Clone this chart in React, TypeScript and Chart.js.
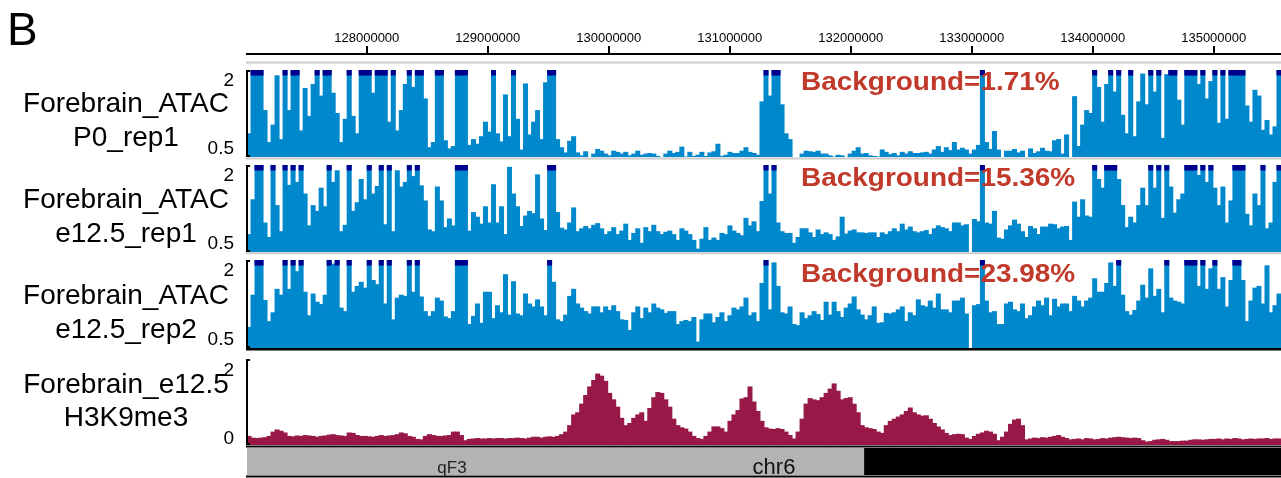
import React, { useEffect, useRef } from 'react';
import { Chart, registerables } from 'chart.js';

Chart.register(...registerables);

const FONT = '"Liberation Sans", Arial, Helvetica, sans-serif';

// genomic window (chr6)
const X_MIN = 127010000;
const X_MAX = 135556000;
const N_BINS = 258;
const X_TICKS = [128000000, 129000000, 130000000, 131000000, 132000000, 133000000, 134000000, 135000000];
const BAND_SPLIT = 132110000;

const PANEL_LABEL = 'B';
const TRACK_NAMES = [
  ['Forebrain_ATAC', 'P0_rep1'],
  ['Forebrain_ATAC', 'e12.5_rep1'],
  ['Forebrain_ATAC', 'e12.5_rep2'],
  ['Forebrain_e12.5', 'H3K9me3'],
];
const BACKGROUND_LABELS = ['Background=1.71%', 'Background=15.36%', 'Background=23.98%'];
const ATAC_RANGE = [0.5, 2];
const ATAC_TICK_LABELS = ['2', '0.5'];
const H3K9_RANGE = [0, 2];
const H3K9_TICK_LABELS = ['2', '0'];
const BAND_NAMES = ['qF3', 'chr6'];

// ATAC signal, forebrain P0 rep1 (values above 2 are clipped in the plot)
const atacP0Rep1 = [
  0.9, 2.5, 2.5, 2.5, 1.3, 0.75, 1.05, 1.9, 0.8, 2.5,
  1.3, 2.5, 2.5, 0.95, 1.68, 1.2, 1.75, 2.5, 1.55, 2.5,
  2.5, 1.6, 1.25, 0.75, 1.15, 2.5, 1.2, 0.9, 2.5, 2.5,
  2.5, 1.6, 2.5, 2.5, 2.5, 1.1, 2.5, 0.95, 1.3, 1.75,
  2.5, 1.7, 2.5,
  2.5, 1.5, 0.66, 0.75, 2.5, 2.5, 0.78, 0.64, 0.68, 2.5,
  2.5, 2.5, 0.7, 0.8, 0.72, 0.85, 1.1, 0.93, 2.5, 0.9,
  0.76, 1.57, 0.85, 2.5, 1.15, 0.62, 1.76, 0.88, 1.1, 1.3,
  0.8, 1.78, 2.5, 2.5, 0.8, 0.66, 0.57, 0.77, 0.85, 0.57,
  0.52, 0.59, 0.45,
  0.55, 0.63, 0.6, 0.55, 0.52, 0.6, 0.58, 0.55, 0.58, 0.52,
  0.55, 0.6, 0.53, 0.55, 0.56, 0.55, 0.51, 0.45, 0.55, 0.6,
  0.56, 0.58, 0.67, 0.5, 0.58, 0.51, 0.53, 0.58, 0.51, 0.57,
  0.59, 0.72, 0.51, 0.53, 0.58, 0.56, 0.56, 0.6, 0.66, 0.58,
  0.56, 0.53, 1.45, 2.5,
  1.55, 2.5, 2.5, 1.4, 0.9, 0.8, 0.45, 0.45, 0.55, 0.6,
  0.59, 0.58, 0.6, 0.55, 0.55, 0.52, 0.5, 0.53, 0.52, 0.45,
  0.55, 0.6, 0.66, 0.55, 0.56, 0.52, 0.51, 0.5, 0.62, 0.58,
  0.54, 0.56, 0.52, 0.58, 0.55, 0.59, 0.56, 0.56, 0.57, 0.58,
  0.55, 0.62, 0.68,
  0.58, 0.66, 0.61, 0.75, 0.62, 0.65, 0.62, 0.55, 0.62, 0.7,
  2.5, 0.75, 0.63, 0.94, 0.62, 0.45, 0.6, 0.6, 0.63, 0.57,
  0.6, 0.48, 0.64, 0.56, 0.59, 0.65, 0.6, 0.59, 0.78, 0.8,
  0.55, 0.88, 0.45, 1.54, 0.68, 1.05, 1.3, 1.25, 2.5, 1.7,
  1.1, 1.75, 2.5,
  1.62, 2.5, 1.22, 0.9, 2.5, 0.85, 1.45, 1.93, 1.4, 2.5,
  1.62, 2.5, 0.82, 1.92, 2.5, 2.5, 1.48, 1.05, 2.5, 2.5,
  2.5, 1.75, 2.5, 1.5, 1.8, 2.5, 1.08, 2.5, 1.15, 2.5,
  2.5, 2.5, 2.5, 1.38, 1.1, 1.65, 1.55, 0.96, 1.13, 0.88,
  1.02, 2.5,
];

// ATAC signal, forebrain e12.5 rep1
const atacE125Rep1 = [
  0.8, 1.4, 2.5, 2.5, 1.0, 0.75, 2.5, 1.3, 0.85, 2.5,
  1.65, 2.5, 1.7, 2.5, 1.5, 0.95, 1.3, 1.2, 1.6, 1.28,
  2.5, 1.7, 1.9, 0.85, 0.96, 2.5, 1.2, 1.35, 1.75, 1.4,
  2.5, 1.5, 1.63, 2.5, 0.97, 2.5, 0.85, 1.9, 1.62, 1.7,
  2.5, 1.8, 2.5,
  1.64, 1.38, 0.88, 0.85, 1.62, 1.38, 0.92, 1.07, 0.95, 2.5,
  2.5, 2.5, 0.86, 1.18, 1.1, 0.98, 1.28, 1.0, 1.66, 1.0,
  1.28, 0.8, 1.96, 1.5, 1.28, 0.94, 1.12, 1.2, 1.16, 1.83,
  1.07, 0.87, 2.5, 2.5, 1.18, 0.91, 0.88, 1.0, 1.26, 0.85,
  0.9, 0.94, 0.9,
  0.96, 0.99, 0.9, 0.8, 0.85, 0.92, 0.8, 0.86, 0.98, 0.7,
  0.82, 0.9, 0.65, 0.92, 0.85, 0.96, 0.85, 0.8, 0.84, 0.86,
  0.8, 0.7, 0.9, 0.86, 0.8, 0.7, 0.55, 0.72, 0.92, 0.7,
  0.74, 0.7, 0.82, 0.8, 0.95, 0.86, 0.82, 0.78, 1.08, 0.95,
  1.02, 0.85, 1.37, 2.5,
  1.5, 2.5, 1.0, 0.85, 0.82, 0.82, 0.65, 0.75, 0.9, 0.9,
  0.83, 0.75, 0.88, 0.8, 0.83, 0.8, 0.7, 0.76, 1.1, 0.81,
  0.86, 0.88, 0.83, 0.83, 0.82, 0.83, 0.83, 0.75, 0.83, 0.8,
  0.85, 0.9, 0.85, 0.98, 0.88, 0.93, 0.85, 0.83, 0.85, 0.87,
  0.8, 0.9, 0.95,
  0.92, 0.9, 0.85, 1.0, 1.0, 0.95, 0.97, 0.45, 1.06, 1.02,
  2.5, 1.0, 0.98, 1.2, 0.74, 0.72, 0.88, 0.95, 1.05, 0.98,
  0.85, 0.75, 0.94, 0.9, 0.8, 0.93, 0.93, 0.98, 0.97, 0.9,
  0.93, 0.94, 0.7, 1.36, 1.1, 1.4, 1.12, 1.1, 2.5, 1.75,
  1.6, 2.5, 2.5,
  2.5, 1.75, 1.3, 0.92, 1.1, 1.0, 1.3, 1.6, 1.3, 2.5,
  1.6, 2.5, 1.08, 2.5, 1.62, 1.17, 1.4, 1.5, 2.5, 2.5,
  2.5, 1.82, 2.5, 1.7, 2.5, 1.6, 1.3, 1.62, 1.0, 1.38,
  2.5, 2.5, 2.5, 1.15, 0.95, 1.5, 1.3, 2.5, 0.9, 1.0,
  1.7, 2.5,
];

// ATAC signal, forebrain e12.5 rep2
const atacE125Rep2 = [
  0.85, 1.4, 2.5, 2.5, 1.31, 0.95, 1.1, 1.5, 1.4, 2.5,
  1.5, 2.5, 1.8, 2.5, 1.45, 1.05, 1.42, 1.28, 1.24, 1.4,
  2.5, 1.93, 2.5, 1.18, 1.12, 2.5, 1.45, 1.55, 1.62, 1.52,
  2.5, 1.65, 1.58, 2.5, 1.25, 2.5, 0.98, 1.35, 1.4, 1.38,
  2.5, 1.45, 2.5,
  1.37, 1.12, 1.04, 1.12, 1.35, 1.3, 1.03, 1.0, 1.12, 2.5,
  2.5, 2.5, 0.9, 1.04, 1.25, 0.92, 1.45, 1.45, 1.0, 1.22,
  1.1, 1.75, 1.06, 1.63, 1.08, 1.05, 1.42, 1.25, 1.2, 1.32,
  1.2, 1.05, 2.5, 1.62, 0.98, 0.95, 1.06, 1.38, 1.5, 1.25,
  1.18, 1.12, 1.08,
  1.2, 1.2, 1.1, 1.2, 1.14, 1.22, 1.12, 0.98, 0.97, 0.8,
  1.1, 1.2, 1.0, 1.18, 1.1, 1.25, 1.18, 1.15, 1.09, 1.12,
  1.12, 0.9, 0.95, 0.97, 0.95, 1.02, 0.6, 0.98, 1.08, 1.08,
  0.93, 1.02, 1.1, 0.95, 1.05, 1.18, 1.15, 1.2, 1.35, 1.05,
  1.1, 0.95, 1.6, 2.5,
  1.15, 1.95, 1.55, 1.1, 1.08, 1.2, 0.9, 0.88, 1.1, 1.0,
  1.05, 1.12, 1.07, 0.97, 1.28, 1.06, 1.28, 1.12, 1.02, 1.18,
  1.25, 1.37, 1.15, 1.06, 0.98, 1.05, 1.2, 0.92, 0.93, 1.09,
  1.08, 1.1, 1.15, 1.2, 0.95, 1.1, 1.05, 1.32, 1.22, 1.2,
  1.3, 1.18, 1.42,
  1.15, 1.15, 1.1, 1.3, 1.3, 1.35, 1.08, 0.45, 1.22, 1.24,
  2.5, 1.3, 1.1, 1.12, 0.9, 0.9, 1.25, 1.28, 1.15, 1.12,
  1.25, 1.0, 1.05, 1.2, 1.3, 1.22, 1.35, 1.05, 1.33, 1.2,
  1.25, 1.25, 1.12, 1.38, 1.3, 1.2, 1.3, 1.35, 1.68, 1.45,
  1.45, 1.6, 1.95,
  1.55, 2.5, 1.4, 1.12, 1.06, 1.14, 1.3, 1.57, 1.35, 1.85,
  1.38, 1.5, 1.1, 2.5, 1.35, 1.3, 1.28, 1.25, 2.5, 2.5,
  2.5, 1.55, 2.5, 1.5, 1.85, 2.5, 1.5, 1.7, 1.2, 1.65,
  2.5, 2.5, 1.65, 0.95, 1.3, 1.52, 1.55, 1.25, 1.9, 1.1,
  1.22, 1.42,
];

// H3K9me3 ChIP signal, forebrain e12.5
const h3k9me3E125 = [
  0.2, 0.16, 0.15, 0.16, 0.17, 0.2, 0.3, 0.35, 0.32, 0.28,
  0.2, 0.19, 0.21, 0.2, 0.22, 0.21, 0.2, 0.18, 0.2, 0.21, 0.23, 0.24, 0.22, 0.21, 0.2,
  0.28, 0.27, 0.22, 0.2,
  0.2, 0.19, 0.18, 0.2, 0.22, 0.2, 0.21, 0.22, 0.24,
  0.28, 0.26, 0.2, 0.18, 0.13, 0.12,
  0.2, 0.24, 0.22, 0.2,
  0.2, 0.21, 0.22, 0.3, 0.3,
  0.22, 0.1,
  0.13, 0.14, 0.15, 0.14, 0.14, 0.15, 0.14, 0.15, 0.15, 0.14, 0.15, 0.15, 0.16, 0.15, 0.14, 0.16,
  0.18, 0.18, 0.16, 0.18, 0.19, 0.18, 0.2,
  0.24, 0.3, 0.45, 0.7, 0.75, 0.95, 1.15, 1.35, 1.5, 1.65, 1.6, 1.48,
  1.2, 1.05, 0.88, 0.62, 0.45, 0.5, 0.62, 0.7, 0.75, 0.55,
  0.85, 1.1, 1.22, 1.2, 1.05, 0.88, 0.6, 0.45, 0.4, 0.37,
  0.3, 0.2, 0.15, 0.13, 0.2, 0.3, 0.42, 0.42, 0.38, 0.3,
  0.55, 0.7, 0.8, 1.07, 1.1, 1.35, 1.0, 0.78, 0.55, 0.4,
  0.37, 0.36, 0.38, 0.36, 0.3, 0.22, 0.14, 0.3, 0.6, 0.95,
  1.08, 1.05, 1.03, 1.1, 1.2, 1.3, 1.42, 1.25, 1.05, 1.08,
  1.1, 0.95, 0.75, 0.45, 0.4, 0.38, 0.36, 0.3, 0.27, 0.45,
  0.55, 0.6, 0.65, 0.7, 0.78, 0.86, 0.75, 0.7, 0.67, 0.68,
  0.6, 0.5, 0.42, 0.35, 0.27, 0.22, 0.24, 0.25, 0.24, 0.16,
  0.13, 0.2, 0.25, 0.28, 0.32, 0.3, 0.25, 0.1, 0.18, 0.3,
  0.48, 0.58, 0.6, 0.45, 0.12, 0.14, 0.16, 0.15, 0.17, 0.16,
  0.18, 0.2, 0.22, 0.18, 0.15, 0.12, 0.13, 0.14, 0.12, 0.15,
  0.14, 0.12, 0.13, 0.15, 0.14, 0.16, 0.17, 0.18, 0.17, 0.16,
  0.15, 0.16, 0.15, 0.1, 0.07, 0.08, 0.11, 0.12, 0.13, 0.11,
  0.08, 0.08, 0.08, 0.09, 0.09, 0.11, 0.12, 0.12, 0.11, 0.12,
  0.13, 0.13, 0.14, 0.12, 0.14, 0.13, 0.15, 0.14, 0.12, 0.13,
  0.14, 0.13, 0.14, 0.14, 0.15, 0.13, 0.14, 0.14,
];

const BLUE = '#0088cc';
const NAVY = '#00008f';
const CRIMSON = '#981848';
const RED_TEXT = '#c0392b';
const BAND_GRAY = '#b3b3b3';

const LEFT = 247;
const W = 1281;

const binCenter = (i: number) => X_MIN + (i + 0.5) * (X_MAX - X_MIN) / N_BINS;

type Line = { at: 'top' | 'bottom'; dy: number; color: string; w: number };
type Decor = {
  lines?: Line[];
  bracket?: boolean;
  topLabel?: string;
  bottomLabel?: string;
  topDy?: number;
  bottomDy?: number;
};

function makeDecor(cfg: Decor) {
  return {
    id: 'trackDecor',
    afterDatasetsDraw(chart: any) {
      const { ctx, chartArea: a } = chart;
      ctx.save();
      for (const l of cfg.lines || []) {
        const y = (l.at === 'top' ? a.top : a.bottom) + l.dy;
        ctx.strokeStyle = l.color;
        ctx.lineWidth = l.w;
        ctx.beginPath();
        ctx.moveTo(a.left - 1, y);
        ctx.lineTo(a.right, y);
        ctx.stroke();
      }
      if (cfg.bracket) {
        ctx.strokeStyle = '#000';
        ctx.lineWidth = 2;
        ctx.beginPath();
        ctx.moveTo(a.left + 3, a.top + 1);
        ctx.lineTo(a.left, a.top + 1);
        ctx.lineTo(a.left, a.bottom - 1);
        ctx.lineTo(a.left + 3, a.bottom - 1);
        ctx.stroke();
      }
      ctx.fillStyle = '#000';
      ctx.font = `19px ${FONT}`;
      ctx.textAlign = 'right';
      ctx.textBaseline = 'alphabetic';
      if (cfg.topLabel) ctx.fillText(cfg.topLabel, a.left - 13, a.top + (cfg.topDy ?? 15.6));
      if (cfg.bottomLabel) ctx.fillText(cfg.bottomLabel, a.left - 13, a.bottom + (cfg.bottomDy ?? -3));
      ctx.restore();
    },
  };
}

function baseOptions(padTop: number, padBottom: number, yMin: number, yMax: number) {
  return {
    responsive: false,
    animation: false,
    events: [],
    layout: { padding: { left: LEFT, right: 0, top: padTop, bottom: padBottom } },
    plugins: { legend: { display: false }, tooltip: { enabled: false } },
    scales: {
      x: { type: 'linear', min: X_MIN, max: X_MAX, display: false, offset: false, grid: { offset: false } },
      y: { type: 'linear', min: yMin, max: yMax, display: false },
    },
  };
}

const barStyle = { barPercentage: 1, categoryPercentage: 1, grouped: false, borderWidth: 0, inflateAmount: 0.5 };

function signalConfig(values: number[], range: number[], color: string, capped: boolean, padTop: number, padBottom: number, decor: Decor) {
  const [yMin, yMax] = range;
  const capH = 0.086 * (yMax - yMin) / 1.5;
  const main = values.map((v, i) => ({ x: binCenter(i), y: v < yMin ? null : Math.min(v, yMax) }));
  const datasets: any[] = [];
  if (capped) {
    const caps = values.map((v, i) => ({ x: binCenter(i), y: v >= yMax ? [yMax - capH, yMax] : null }));
    datasets.push({ data: caps, backgroundColor: NAVY, ...barStyle });
  }
  datasets.push({ data: main, backgroundColor: color, ...barStyle });
  return {
    type: 'bar',
    data: { datasets },
    options: baseOptions(padTop, padBottom, yMin, yMax),
    plugins: [makeDecor(decor)],
  };
}

function axisConfig() {
  return {
    type: 'scatter',
    data: { datasets: [] },
    options: {
      responsive: false,
      animation: false,
      events: [],
      layout: { padding: { left: LEFT, right: 0, top: 0, bottom: 0 } },
      plugins: { legend: { display: false }, tooltip: { enabled: false } },
      scales: {
        x: {
          type: 'linear',
          position: 'top',
          min: X_MIN,
          max: X_MAX,
          offset: false,
          afterBuildTicks: (s: any) => { s.ticks = X_TICKS.map((v) => ({ value: v })); },
          afterFit: (s: any) => { s.height = 54; },
          ticks: {
            autoSkip: false,
            maxRotation: 0,
            padding: 0,
            color: '#000',
            font: { family: FONT, size: 13 },
            callback: (v: number) => String(v),
          },
          grid: { drawOnChartArea: false, drawTicks: true, tickLength: 8, color: '#000', lineWidth: 2 },
          border: { display: true, color: '#000', width: 2 },
        },
        y: { display: false },
      },
    },
  };
}

function ideogramConfig() {
  return {
    type: 'bar',
    data: {
      labels: ['chr6'],
      datasets: [
        { data: [[X_MIN, BAND_SPLIT]], backgroundColor: BAND_GRAY, ...barStyle, inflateAmount: 0 },
        { data: [[BAND_SPLIT, X_MAX]], backgroundColor: '#000', ...barStyle, inflateAmount: 0 },
      ],
    },
    options: {
      indexAxis: 'y',
      responsive: false,
      animation: false,
      events: [],
      layout: { padding: { left: LEFT, right: 0, top: 0, bottom: 3 } },
      plugins: { legend: { display: false }, tooltip: { enabled: false } },
      scales: {
        x: { type: 'linear', min: X_MIN, max: X_MAX, display: false, offset: false },
        y: { display: false },
      },
    },
    plugins: [makeDecor({ lines: [{ at: 'bottom', dy: 1.5, color: '#000', w: 2 }] })],
  };
}

function ChartCanvas({ top, height, build }: { top: number; height: number; build: () => any }) {
  const ref = useRef<HTMLCanvasElement>(null);
  useEffect(() => {
    const chart = new Chart(ref.current as HTMLCanvasElement, build());
    return () => chart.destroy();
  }, []);
  return (
    <canvas
      ref={ref}
      width={W}
      height={height}
      style={{ position: 'absolute', left: 0, top, width: W, height }}
    />
  );
}

function Txt({ text, x, baseline, size, align = 'center', weight = 400, color = '#000', sx = 1 }: any) {
  const top = baseline - 0.8465 * size;
  const shift = align === 'center' ? 'translateX(-50%)' : align === 'right' ? 'translateX(-100%)' : '';
  return (
    <div
      style={{
        position: 'absolute',
        left: x,
        top,
        fontFamily: FONT,
        fontSize: size,
        lineHeight: `${size}px`,
        fontWeight: weight,
        color,
        whiteSpace: 'nowrap',
        transform: `${shift} scaleX(${sx})`,
        transformOrigin: align === 'left' ? 'left center' : 'center center',
      }}
    >
      {text}
    </div>
  );
}

const NAME_BASELINES = [[113, 147], [209, 243], [305, 339], [394, 427]];
const BG_BASELINES = [90.5, 186, 282];

export default function App() {
  return (
    <div
      style={{
        position: 'absolute',
        left: 0,
        top: 0,
        width: W,
        height: 478,
        overflow: 'hidden',
        background: '#fff',
      }}
    >
      <ChartCanvas top={0} height={56} build={axisConfig} />
      <ChartCanvas
        top={56}
        height={104}
        build={() =>
          signalConfig(atacP0Rep1, ATAC_RANGE, BLUE, true, 14, 3, {
            lines: [
              { at: 'top', dy: -7.5, color: '#cccccc', w: 2 },
              { at: 'bottom', dy: 1.5, color: '#cccccc', w: 2 },
            ],
            bracket: true,
            topLabel: ATAC_TICK_LABELS[0],
            bottomLabel: ATAC_TICK_LABELS[1],
          })
        }
      />
      <ChartCanvas
        top={160}
        height={96}
        build={() =>
          signalConfig(atacE125Rep1, ATAC_RANGE, BLUE, true, 5, 4, {
            lines: [{ at: 'bottom', dy: 1.3, color: '#cccccc', w: 2 }],
            bracket: true,
            topLabel: ATAC_TICK_LABELS[0],
            bottomLabel: ATAC_TICK_LABELS[1],
          })
        }
      />
      <ChartCanvas
        top={256}
        height={96}
        build={() =>
          signalConfig(atacE125Rep2, ATAC_RANGE, BLUE, true, 4, 4, {
            lines: [{ at: 'bottom', dy: 1.3, color: '#000', w: 2.5 }],
            bracket: true,
            topLabel: ATAC_TICK_LABELS[0],
            bottomLabel: ATAC_TICK_LABELS[1],
          })
        }
      />
      <ChartCanvas
        top={352}
        height={96}
        build={() =>
          signalConfig(h3k9me3E125, H3K9_RANGE, CRIMSON, false, 7, 3, {
            lines: [{ at: 'bottom', dy: 1.5, color: '#000', w: 2 }],
            bracket: true,
            topLabel: H3K9_TICK_LABELS[0],
            bottomLabel: H3K9_TICK_LABELS[1],
            topDy: 17,
            bottomDy: -1,
          })
        }
      />
      <ChartCanvas top={448} height={30} build={ideogramConfig} />

      <Txt text={PANEL_LABEL} x={7} baseline={45} size={46} align="left" />
      {TRACK_NAMES.map((lines, t) =>
        lines.map((s, k) => (
          <Txt key={`${t}-${k}`} text={s} x={126} baseline={NAME_BASELINES[t][k]} size={28} />
        ))
      )}
      {BACKGROUND_LABELS.map((s, t) => (
        <Txt key={s} text={s} x={801} baseline={BG_BASELINES[t]} size={26} weight={700} color={RED_TEXT} align="left" sx={1.075} />
      ))}
      <Txt text={BAND_NAMES[0]} x={452} baseline={473} size={17} color="#222" />
      <Txt text={BAND_NAMES[1]} x={774} baseline={474.5} size={22} color="#111" />
    </div>
  );
}
